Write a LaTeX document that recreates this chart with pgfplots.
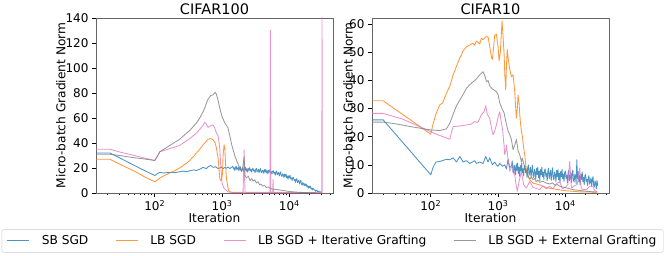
\documentclass[border=0pt]{standalone}
\usepackage{pgfplots}
\pgfplotsset{compat=1.18}
\usepackage{fontspec}
\setmainfont{DejaVu Sans}
\definecolor{cSB}{HTML}{1F77B4}
\definecolor{cLB}{HTML}{FF7F0E}
\definecolor{cIG}{HTML}{E377C2}
\definecolor{cEG}{HTML}{7F7F7F}
\begin{document}
\begin{tikzpicture}
\useasboundingbox (0,0) rectangle (665pt,256pt);
% ---------------- CIFAR100 ----------------
\begin{axis}[
  scale only axis, width=237pt, height=175pt,
  at={(96pt,63pt)}, anchor=south west,
  xmode=log, xmin=13.4, xmax=44460, ymin=0, ymax=140,
  xtick={100,1000,10000},
  xticklabels={10\textsuperscript{2},10\textsuperscript{3},10\textsuperscript{4}},
  minor xtick={20,30,40,50,60,70,80,90,200,300,400,500,600,700,800,900,2000,3000,4000,5000,6000,7000,8000,9000,20000,30000,40000},
  ytick={0,20,40,60,80,100,120,140},
  tick align=outside, tick pos=left,
  major tick length=4pt, minor tick length=2.3pt,
  every tick/.style={black, line width=0.6pt},
  axis line style={black!60, line width=0.6pt},
  /pgf/number format/assume math mode=true,
  ticklabel style={font=\fontsize{12}{14}\selectfont},
  label style={font=\fontsize{12.2}{14}\selectfont},
  every axis title shift=0pt,
  title style={font=\fontsize{14.5}{17}\selectfont, at={(0.5,1)}, anchor=base, yshift=3pt},
  xlabel style={at={(axis description cs:0.5,-0.143)}, anchor=center},
  ylabel style={at={(axis description cs:-0.148,0.5)}, anchor=center},
  xlabel={Iteration}, ylabel={Micro-batch Gradient Norm},
  title={CIFAR100},
  legend columns=4,
  legend style={at={(0.998,-0.274)}, anchor=center,
    draw=black!20, rounded corners=2pt, inner xsep=5pt, inner ysep=4pt,
    font=\fontsize{12.2}{14}\selectfont,
    /tikz/every odd column/.append style={column sep=10pt},
    /tikz/every even column/.append style={column sep=25pt}},
  legend image code/.code={\draw[#1] (0pt,0pt) -- (22pt,0pt);},
  every axis plot/.append style={line width=0.85pt, opacity=0.8, no markers, line join=round},
]
\addlegendimage{cSB, line width=1pt, opacity=0.8}
\addlegendentry{SB SGD}
\addlegendimage{cLB, line width=1pt, opacity=0.8}
\addlegendentry{LB SGD}
\addlegendimage{cIG, line width=1pt, opacity=0.8}
\addlegendentry{LB SGD + Iterative Grafting}
\addlegendimage{cEG, line width=1pt, opacity=0.8}
\addlegendentry{LB SGD + External Grafting}
\addplot[cSB, forget plot] coordinates {
(13.4,32) (21.5,32) (31.6,27.5) (50,22) (70,18) (100,14) (110,15.5) (119,16.5) (135,16) (167,16.5)
(200,16.3) (235,17) (264,17.5) (300,17) (331,17.8) (380,18.5) (416,18) (466,19) (522,20.5) (585,19.5)
(620,21) (680,22) (735,20.5) (800,21) (873,19.5) (923,20) (977,21) (1035,19.5) (1100,20.5) (1160,19.8)
(1230,20.8) (1300,19.5) (1380,20.5)
(1445,21.4) (1479,19.3) (1514,20.2) (1549,18.0) (1585,20.6) (1622,21.3) (1660,18.5) (1698,19.3) (1738,20.7) (1778,17.8)
(1820,19.8) (1862,21.1) (1905,18.2) (1950,17.7) (1995,19.8) (2042,19.1) (2089,17.2) (2138,20.2) (2188,18.4) (2239,20.4)
(2291,17.5) (2344,19.3) (2399,16.7) (2455,19.7) (2512,18.2) (2570,20.3) (2630,17.6) (2692,18.8) (2754,16.8) (2818,19.3)
(2884,19.6) (2951,17.6) (3020,18.4) (3090,16.3) (3162,18.9) (3236,19.7) (3311,16.8) (3388,17.7) (3467,19.0) (3548,16.2)
(3631,18.2) (3715,19.6) (3802,16.7) (3890,16.2) (3981,18.3) (4074,17.6) (4169,15.7) (4266,18.7) (4365,16.9) (4467,18.9)
(4571,16.0) (4677,17.8) (4786,15.2) (4898,18.2) (5012,16.7) (5129,18.7) (5248,16.0) (5370,17.1) (5495,15.1) (5623,17.5)
(5754,17.8) (5888,15.7) (6026,16.5) (6166,14.3) (6310,16.9) (6457,17.6) (6607,14.6) (6761,15.4) (6918,16.6) (7079,13.7)
(7244,15.6) (7413,16.9) (7586,13.9) (7762,13.3) (7943,15.3) (8128,14.4) (8318,12.4) (8511,15.2) (8710,13.3) (8913,15.1)
(9120,12.1) (9333,13.7) (9550,11.0) (9772,13.8) (10000,12.2) (10233,14.1) (10471,11.2) (10715,12.2) (10965,10.0) (11220,12.3)
(11482,12.4) (11749,10.2) (12023,10.8) (12303,8.5) (12589,10.9) (12882,11.5) (13183,8.4) (13490,9.1) (13804,10.2) (14125,7.2)
(14454,9.0) (14791,10.2) (15136,7.1) (15488,6.4) (15849,8.3) (16218,7.3) (16596,5.7) (16982,7.5) (17378,6.0) (17783,7.1)
(18197,4.9) (18621,5.8) (19055,3.8) (19498,5.6) (19953,4.3) (20417,5.5) (20893,3.4) (21380,4.0) (21878,2.4) (22387,3.8)
(22909,3.4) (23442,2.4) (23988,2.4) (24547,1.3) (25119,2.2) (25704,2.3) (26303,1.0) (26915,1.15) (27542,1.6) (28184,0.3)
(28840,1.0) (29512,1.05) (30200,0.2)
};
\addplot[cLB, forget plot] coordinates {
(13.4,27) (21.5,27) (31.6,22.5) (50,17.5) (70,13) (100,9) (110,10.5) (119,12) (140,14) (167,16)
(200,18) (235,20) (264,22) (300,24) (331,26) (380,29.5) (416,32) (466,35) (522,38.5) (553,40)
(585,41.5) (620,43) (680,43.5) (735,42.5) (790,40) (824,36) (873,28) (923,12) (955,10) (977,10.5)
(1012,15) (1035,30) (1071,38.5) (1100,36) (1122,25) (1160,12) (1214,5) (1260,2) (1300,1) (1456,0.3)
(3000,0.1) (30200,0.05)
};
\addplot[cIG, forget plot] coordinates {
(13.4,35) (21.5,35) (31.6,32.5) (50,30) (70,28) (100,26) (110,30) (119,33) (167,35.5) (235,38)
(264,40) (331,43.5) (416,48) (466,51) (522,54) (553,56.5) (585,55) (620,52.5) (680,54) (735,54.5)
(780,52) (824,48) (873,46) (923,36) (960,20) (1000,8) (1060,4) (1160,2) (1228,0.8) (1456,0.5)
(2050,0.5) (2100,20) (2123,34.5) (2150,15) (2198,0.5) (5150,0.5) (5222,130) (5290,0.5) (5650,0.5)
(5719,11) (5790,0.5) (30350,0.3) (30550,150) (30800,0.3)
};
\addplot[cEG, forget plot] coordinates {
(13.4,31) (21.5,31) (31.6,29.8) (50,28.2) (70,27.2) (100,26) (110,29.5) (119,33) (167,38) (235,43)
(264,45.5) (331,50) (416,56) (466,60) (522,65) (553,68) (585,72) (620,75) (680,78) (735,78.5)
(790,80.5) (824,79) (873,74) (923,68) (1000,61) (1100,56) (1228,52) (1400,38) (1542,30) (1700,24)
(1830,20) (1950,17) (2050,22) (2123,29) (2198,14) (2298,12) (2450,13.5) (2600,10) (2750,11.5)
(2886,9.5) (3050,10.5) (3236,8) (3420,9) (3625,6.5) (3800,7.2) (4000,5.5) (4250,6) (4552,4.5)
(4800,4.8) (5103,4) (5500,3.2) (6000,3) (7000,2.5) (8050,2) (10000,1.2) (14230,0.5) (20000,0.2)
(25000,0.1)
};
\end{axis}
% ---------------- CIFAR10 ----------------
\begin{axis}[
  scale only axis, width=237pt, height=175pt,
  at={(372pt,63pt)}, anchor=south west,
  xmode=log, xmin=13.4, xmax=44460, ymin=0, ymax=62.2,
  xtick={100,1000,10000},
  xticklabels={10\textsuperscript{2},10\textsuperscript{3},10\textsuperscript{4}},
  minor xtick={20,30,40,50,60,70,80,90,200,300,400,500,600,700,800,900,2000,3000,4000,5000,6000,7000,8000,9000,20000,30000,40000},
  ytick={0,10,20,30,40,50,60},
  tick align=outside, tick pos=left,
  major tick length=4pt, minor tick length=2.3pt,
  every tick/.style={black, line width=0.6pt},
  axis line style={black!60, line width=0.6pt},
  /pgf/number format/assume math mode=true,
  ticklabel style={font=\fontsize{12}{14}\selectfont},
  label style={font=\fontsize{12.2}{14}\selectfont},
  every axis title shift=0pt,
  title style={font=\fontsize{14.5}{17}\selectfont, at={(0.5,1)}, anchor=base, yshift=3pt},
  xlabel style={at={(axis description cs:0.5,-0.143)}, anchor=center},
  ylabel style={at={(axis description cs:-0.101,0.5)}, anchor=center},
  xlabel={Iteration}, ylabel={Micro-batch Gradient Norm},
  title={CIFAR10},
  every axis plot/.append style={line width=0.85pt, opacity=0.8, no markers, line join=round},
]
\addplot[cSB] coordinates {
(13.4,26) (19.6,26) (31.6,20.3) (50,14.8) (70.8,10.6) (100,6.5) (108,9) (119,11) (136,11.2) (171,12)
(192,11.8) (215,12.5) (241,11) (270,13) (302,11) (339,11.5) (380,10.5) (450,11.5) (476,10.5) (534,11)
(598,10.5) (656,13) (710,11) (752,12.5) (824,10) (890,11) (945,10) (1000,9.5) (1059,10.5) (1160,9.5)
(1256,10) (1330,8.5) (1409,12) (1490,9)
(1585,9.65) (1622,11.42) (1660,7.73) (1698,7.03) (1738,9.84) (1778,8.88) (1820,6.49) (1862,10.34) (1905,8.08) (1950,10.63)
(1995,6.94) (2042,9.23) (2089,5.93) (2138,9.78) (2188,7.91) (2239,10.59) (2291,7.16) (2344,8.67) (2399,6.15) (2455,9.35)
(2512,9.82) (2570,7.17) (2630,8.29) (2692,5.51) (2754,8.97) (2818,9.96) (2884,6.27) (2951,7.39) (3020,9.16) (3090,5.47)
(3162,8.15) (3236,9.92) (3311,6.23) (3388,5.53) (3467,8.34) (3548,7.38) (3631,4.99) (3715,8.84) (3802,6.58) (3890,9.13)
(3981,5.44) (4074,7.76) (4169,4.48) (4266,8.36) (4365,6.51) (4467,9.22) (4571,5.81) (4677,7.35) (4786,4.85) (4898,8.08)
(5012,8.57) (5129,5.95) (5248,7.09) (5370,4.34) (5495,7.82) (5623,8.84) (5754,5.17) (5888,6.32) (6026,8.11) (6166,4.45)
(6310,7.15) (6457,8.95) (6607,5.28) (6761,4.61) (6918,7.44) (7079,6.51) (7244,4.14) (7413,8.02) (7586,5.78) (7762,8.36)
(7943,4.69) (8128,7.01) (8318,3.73) (8511,7.61) (8710,5.76) (8913,8.47) (9120,5.06) (9333,6.60) (9550,4.10) (9772,7.33)
(10000,7.82) (10233,5.20) (10471,6.34) (10715,3.59) (10965,7.07) (11220,8.09) (11482,4.42) (11749,5.57) (12023,7.36) (12303,3.70)
(12589,6.40) (12882,8.20) (13183,4.53) (13490,3.86) (13804,6.69) (14125,5.76) (14454,3.39) (14791,11.8) (15136,5.03) (15488,7.61)
(15849,3.94) (16218,6.21) (16596,2.88) (16982,6.71) (17378,4.81) (17783,7.47) (18197,4.01) (18621,5.50) (19055,2.95) (19498,6.13)
(19953,6.57) (20417,4.05) (20893,4.91) (21380,2.65) (21878,5.39) (22387,6.15) (22909,3.16) (23442,4.02) (23988,5.40) (24547,2.41)
(25119,4.52) (25704,5.86) (26303,2.81) (26915,2.17) (27542,4.33) (28184,3.48) (28840,1.48) (29512,4.48) (30200,2.58)
};
\addplot[cLB] coordinates {
(13.4,32.8) (19.6,32.8) (31.6,29.3) (50,26) (70.8,23.4) (100,20.9) (108,24.5) (119,28) (136,31.3)
(150,32) (171,35.4) (192,38) (215,42) (241,45) (270,48) (285,49) (302,50.5) (339,52) (380,52.6)
(420,53.2) (450,52.5) (476,54) (534,53) (565,55) (598,54.5) (656,55.5) (710,55.5) (752,52) (800,48)
(824,47.5) (860,52) (890,56) (945,56.5) (1000,52) (1035,47) (1080,50) (1146,61.2) (1190,55)
(1227,49.8) (1260,42) (1300,36.6) (1330,45) (1370,51) (1409,48) (1450,46) (1490,44) (1578,41.3)
(1671,42) (1769,36) (1830,30) (1872,26.6) (1930,30) (1982,34.8) (2050,32) (2099,28) (2150,25)
(2222,22) (2298,20) (2400,16) (2489,13.6) (2635,7.7) (2790,6) (2954,4.7) (3311,3.5) (4156,2.9)
(5222,1.9) (5852,1.7) (8240,1.1) (10350,0.8) (16320,0.4) (28840,0.3)
};
\addplot[cIG] coordinates {
(13.4,28.3) (19.6,28.3) (38.8,26.2) (77,23) (121,20.9) (192,19.1) (205,22) (215,23.6) (270,23.8)
(339,24.2) (400,24.5) (450,25.4) (500,25) (565,27.8) (620,29) (656,31) (690,28) (752,26.5) (800,23)
(843,20.7) (890,22) (945,24.2) (1000,27) (1059,28.9) (1100,26) (1160,23) (1227,17) (1256,13.6)
(1300,15) (1330,17) (1409,12) (1490,7.7) (1578,9) (1671,10) (1769,6.5) (1850,3) (1930,0.6) (2050,4)
(2222,7.7) (2390,3) (2635,1.8) (2954,4.1) (3300,2) (4156,1.2) (4600,2.5) (5222,1.5) (5852,2.4)
(6500,1.5) (7500,3.5) (8240,4) (9000,1.5) (10000,2) (10900,3) (11590,11.2) (12300,1.8) (13500,2.5)
(15000,3) (16320,8.9) (17200,1.5) (18500,1.2) (20500,1.2) (23000,2.4) (25750,2.4) (27000,1)
(28840,0.5) (30200,0.3)
};
\addplot[cEG] coordinates {
(13.4,25.2) (19.6,25.2) (31.6,24.5) (50,23.6) (70.8,23) (100,22.4) (136,22.2) (171,22.8) (192,24.8)
(215,28) (241,31) (270,33) (302,35) (339,37.2) (380,38.5) (450,40) (476,40.5) (534,42) (598,43.1)
(640,41.5) (671,39.5) (710,40) (752,38) (824,37) (945,36) (1000,35) (1059,32) (1146,30) (1227,28.5)
(1300,25.5) (1409,22) (1490,20.8) (1578,19) (1671,15.4) (1769,17) (1872,19) (1982,15) (2099,13.6)
(2222,11) (2298,12.4) (2489,9) (2635,7.7) (2790,6) (2954,5) (3150,5.6) (3311,4.7) (3500,5.2) (3700,4)
(3900,4.6) (4156,3.8) (4600,4.2) (5222,3.5) (5852,3.2) (6400,3.6) (7000,2.8) (7600,3) (8240,2.4)
(10350,1.8) (12990,1.2) (16320,0.9) (20500,0.6) (28840,0.3)
};
\end{axis}
\end{tikzpicture}
\end{document}
